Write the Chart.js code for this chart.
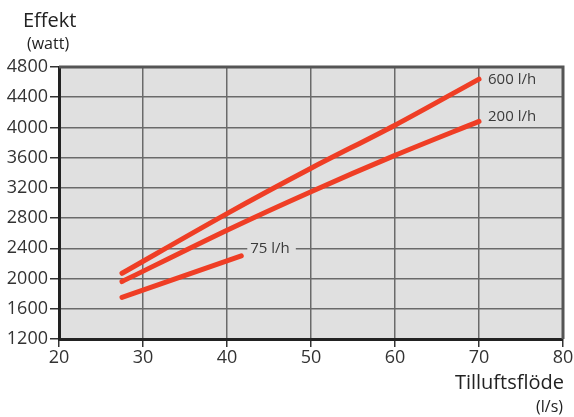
<!DOCTYPE html>
<html>
<head>
<meta charset="utf-8">
<script src="https://cdn.jsdelivr.net/npm/chart.js@4.4.1/dist/chart.umd.min.js"></script>
<style>
  html, body { margin: 0; padding: 0; background: #fff; }
  #wrap { width: 574px; height: 417px; }
</style>
</head>
<body>
<div id="wrap"><canvas id="chart" width="574" height="417"></canvas></div>
<script>
const flow600 = [27.5, 40, 50, 60, 70];
const watt600 = [2070, 2860, 3460, 4030, 4640];
const flow200 = [27.5, 40, 50, 60, 70];
const watt200 = [1960, 2640, 3150, 3630, 4080];
const flow75 = [27.5, 41.7];
const watt75 = [1750, 2300];
const seriesNames = ["600 l/h", "200 l/h", "75 l/h"];

const xTicks = [20, 30, 40, 50, 60, 70, 80];
const yTicks = [1200, 1600, 2000, 2400, 2800, 3200, 3600, 4000, 4400, 4800];

const FONT = "'Open Sans', 'DejaVu Sans', sans-serif";
const RED = "#ef3e25";

function toPoints(xs, ys) {
    return xs.map((x, i) => ({ x: x, y: ys[i] }));
}

// grey plot area plus top/right frame
const plotFrame = {
    id: "plotFrame",
    beforeDraw(chart) {
        const { ctx, chartArea: a } = chart;
        ctx.save();
        ctx.fillStyle = "#e0e0e0";
        ctx.fillRect(a.left, a.top, a.right - a.left, a.bottom - a.top);
        ctx.restore();
    },
    beforeDatasetsDraw(chart) {
        const { ctx, chartArea: a } = chart;
        ctx.save();
        ctx.strokeStyle = "#555";
        ctx.lineWidth = 3;
        ctx.beginPath();
        ctx.moveTo(a.left, a.top);
        ctx.lineTo(a.right, a.top);
        ctx.lineTo(a.right, a.bottom);
        ctx.stroke();
        ctx.restore();
    }
};

// axis titles and series labels
const textLayer = {
    id: "textLayer",
    afterDraw(chart) {
        const { ctx, chartArea: a } = chart;
        const xs = chart.scales.x, ys = chart.scales.y;
        ctx.save();
        ctx.fillStyle = "#222";
        ctx.textBaseline = "middle";

        ctx.textAlign = "left";
        ctx.font = "20px " + FONT;
        ctx.fillText("Effekt", 23, 21);
        ctx.font = "16px " + FONT;
        ctx.fillText("(watt)", 27, 44);

        ctx.textAlign = "right";
        ctx.font = "20px " + FONT;
        ctx.fillText("Tilluftsflöde", a.right + 1, 383);
        ctx.font = "16px " + FONT;
        ctx.fillText("(l/s)", a.right, 407);

        ctx.fillStyle = "#3a3a3a";
        ctx.font = "15px " + FONT;
        ctx.textAlign = "left";
        ctx.fillText(seriesNames[0], xs.getPixelForValue(flow600[flow600.length - 1]) + 9,
            ys.getPixelForValue(watt600[watt600.length - 1]) + 1);
        ctx.fillText(seriesNames[1], xs.getPixelForValue(flow200[flow200.length - 1]) + 9,
            ys.getPixelForValue(watt200[watt200.length - 1]) - 5);

        // 75 l/h label sits on the 2400 grid line
        const lx = xs.getPixelForValue(flow75[flow75.length - 1]) + 9;
        const ly = ys.getPixelForValue(2400);
        const w = ctx.measureText(seriesNames[2]).width;
        ctx.fillStyle = "#e0e0e0";
        ctx.fillRect(lx - 3, ly - 4, w + 9, 8);
        ctx.fillStyle = "#3a3a3a";
        ctx.fillText(seriesNames[2], lx, ly);
        ctx.restore();
    }
};

const lineStyle = {
    borderColor: RED,
    borderWidth: 5,
    borderCapStyle: "round",
    pointRadius: 0,
    fill: false,
    tension: 0.3
};

new Chart(document.getElementById("chart"), {
    type: "line",
    data: {
        datasets: [
            { label: seriesNames[0], data: toPoints(flow600, watt600), ...lineStyle },
            { label: seriesNames[1], data: toPoints(flow200, watt200), ...lineStyle },
            { label: seriesNames[2], data: toPoints(flow75, watt75), ...lineStyle }
        ]
    },
    options: {
        responsive: false,
        animation: false,
        layout: { padding: { top: 67, right: 11, left: 0, bottom: 0 } },
        plugins: {
            legend: { display: false },
            tooltip: { enabled: false }
        },
        scales: {
            x: {
                type: "linear",
                min: xTicks[0],
                max: xTicks[xTicks.length - 1],
                afterBuildTicks(scale) { scale.ticks = xTicks.map(v => ({ value: v })); },
                afterFit(scale) { scale.height = 78; },
                grid: { color: "#6a6a6a", lineWidth: 1.5, tickLength: 8, tickColor: "#333" },
                border: { color: "#222", width: 3 },
                ticks: { color: "#333", font: { family: FONT, size: 18 }, padding: 0, maxRotation: 0,
                    callback: v => String(v) }
            },
            y: {
                type: "linear",
                min: yTicks[0],
                max: yTicks[yTicks.length - 1],
                afterBuildTicks(scale) { scale.ticks = yTicks.map(v => ({ value: v })); },
                afterFit(scale) { scale.width = 59; },
                grid: { color: "#6a6a6a", lineWidth: 1.5, tickLength: 9, tickColor: "#333" },
                border: { color: "#222", width: 3 },
                ticks: { color: "#333", font: { family: FONT, size: 18 }, padding: 2,
                    callback: v => String(v) }
            }
        }
    },
    plugins: [plotFrame, textLayer]
});
</script>
</body>
</html>
